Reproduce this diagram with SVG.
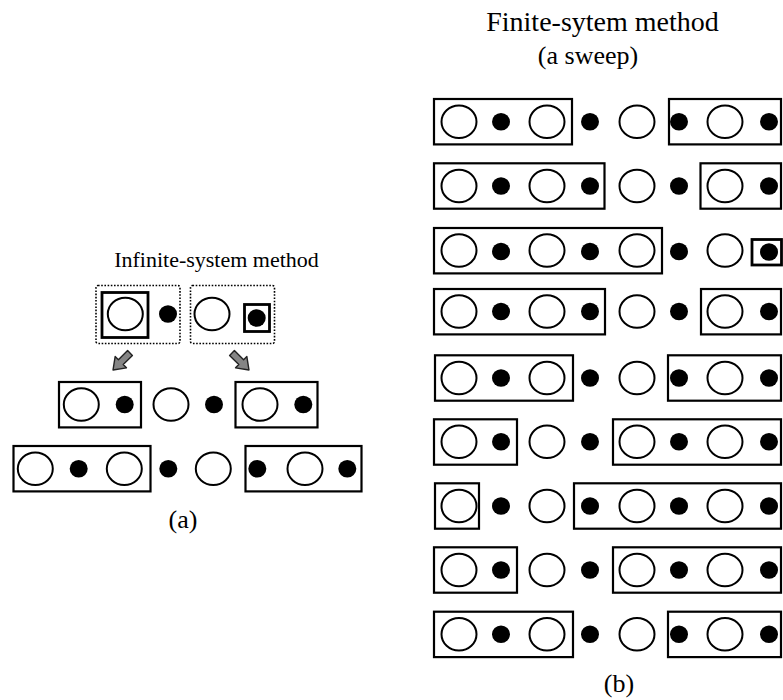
<svg xmlns="http://www.w3.org/2000/svg" width="783" height="700" viewBox="0 0 783 700">
  <style>
    .title { font-family: "Liberation Serif", "Times New Roman", serif; fill: #000; text-anchor: middle; }
    .box { fill: none; stroke: #000; stroke-width: 2.2; }
    .thick { fill: none; stroke: #000; stroke-width: 2.8; }
    .dotted { fill: none; stroke: #000; stroke-width: 1.6; stroke-dasharray: 1.6 1.6; }
    .site { fill: #fff; stroke: #000; stroke-width: 2; }
    .dot { fill: #000; }
    .arrow { fill: #858585; stroke: #222; stroke-width: 1.4; stroke-linejoin: round; }
  </style>
  <defs>
    <ellipse id="c" class="site" cx="0" cy="0" rx="17.5" ry="16.3"/>
    <ellipse id="d" class="dot" cx="0" cy="0" rx="9" ry="8.8"/>
    <!-- block arrow pointing along +x, tail at origin -->
    <polygon id="blk" class="arrow" points="0,-3.4 13,-3.4 13,-8 24,0 13,8 13,3.4 0,3.4"/>
  </defs>

  <rect width="783" height="700" fill="#fff"/>

  <!-- (a) infinite-system method -->
  <text class="title" x="216.5" y="267" font-size="22">Infinite-system method</text>

  <g id="a-row1">
    <g id="a1-left">
      <rect class="dotted" x="96" y="285.5" width="84" height="58" rx="2"/>
      <rect class="thick" x="102" y="292.5" width="46" height="45"/>
      <use href="#c" x="125.3" y="314"/>
      <use href="#d" x="168" y="314"/>
    </g>
    <g id="a1-right">
      <rect class="dotted" x="190.5" y="285.5" width="84" height="58" rx="2"/>
      <use href="#c" x="212" y="314"/>
      <rect class="thick" x="244.5" y="304.5" width="25" height="27"/>
      <use href="#d" x="256.7" y="318"/>
    </g>
  </g>

  <g id="connectors">
    <use href="#blk" transform="translate(130,353) rotate(135)"/>
    <use href="#blk" transform="translate(232,353) rotate(45)"/>
  </g>

  <g id="a-row2">
    <g id="a2-left">
      <rect class="box" x="59" y="382" width="82" height="45.4"/>
      <use href="#c" x="81.3" y="404.5"/>
      <use href="#d" x="124.7" y="404.5"/>
    </g>
    <g id="a2-mid">
      <use href="#c" x="171" y="404.5"/>
      <use href="#d" x="214" y="404.5"/>
    </g>
    <g id="a2-right">
      <rect class="box" x="235.5" y="382" width="82" height="45.4"/>
      <use href="#c" x="260" y="404.5"/>
      <use href="#d" x="303.3" y="404.5"/>
    </g>
  </g>

  <g id="a-row3">
    <g id="a3-left">
      <rect class="box" x="13.5" y="446" width="137" height="45.4"/>
      <use href="#c" x="35.3" y="468.7"/>
      <use href="#d" x="78.7" y="468.7"/>
      <use href="#c" x="124.3" y="468.7"/>
    </g>
    <g id="a3-mid">
      <use href="#d" x="168.3" y="468.7"/>
      <use href="#c" x="213.3" y="468.7"/>
    </g>
    <g id="a3-right">
      <rect class="box" x="245.5" y="446" width="116" height="45.4"/>
      <use href="#d" x="257.3" y="468.7"/>
      <use href="#c" x="305" y="468.7"/>
      <use href="#d" x="347.3" y="468.7"/>
    </g>
  </g>

  <text class="title" x="183" y="528" font-size="26">(a)</text>

  <!-- (b) finite-system method, one sweep -->
  <text class="title" x="602.5" y="31" font-size="28">Finite-sytem method</text>
  <text class="title" x="588" y="64" font-size="26">(a sweep)</text>

  <!-- row template: sites at x = 459 501 547 590 637 679 725 769 -->
  <g id="b-row1">
    <rect class="box" x="434" y="99" width="138" height="45.4"/>
    <rect class="box" x="669" y="99" width="112" height="45.4"/>
    <use href="#c" x="459" y="121.7"/><use href="#d" x="501" y="121.7"/>
    <use href="#c" x="547" y="121.7"/><use href="#d" x="590" y="121.7"/>
    <use href="#c" x="637" y="121.7"/><use href="#d" x="679" y="121.7"/>
    <use href="#c" x="725" y="121.7"/><use href="#d" x="769" y="121.7"/>
  </g>

  <g id="b-row2">
    <rect class="box" x="434" y="163.3" width="170.5" height="45.4"/>
    <rect class="box" x="700.5" y="163.3" width="80.5" height="45.4"/>
    <use href="#c" x="459" y="186"/><use href="#d" x="501" y="186"/>
    <use href="#c" x="547" y="186"/><use href="#d" x="590" y="186"/>
    <use href="#c" x="637" y="186"/><use href="#d" x="679" y="186"/>
    <use href="#c" x="725" y="186"/><use href="#d" x="769" y="186"/>
  </g>

  <g id="b-row3">
    <rect class="box" x="434" y="228" width="228" height="45.4"/>
    <rect class="thick" x="752" y="239.5" width="29.5" height="25.5"/>
    <use href="#c" x="459" y="250.5"/><use href="#d" x="501" y="251.5"/>
    <use href="#c" x="547" y="250.5"/><use href="#d" x="590" y="251.5"/>
    <use href="#c" x="637" y="250.5"/><use href="#d" x="679" y="251.5"/>
    <use href="#c" x="725" y="250.5"/><use href="#d" x="769" y="252"/>
  </g>

  <g id="b-row4">
    <rect class="box" x="434" y="289" width="171" height="45.4"/>
    <rect class="box" x="701" y="289" width="80" height="45.4"/>
    <use href="#c" x="459" y="311.5"/><use href="#d" x="501" y="311.5"/>
    <use href="#c" x="547" y="311.5"/><use href="#d" x="590" y="311.5"/>
    <use href="#c" x="637" y="311.5"/><use href="#d" x="679" y="311.5"/>
    <use href="#c" x="725" y="311.5"/><use href="#d" x="769" y="311.5"/>
  </g>

  <g id="b-row5">
    <rect class="box" x="435" y="355.3" width="138" height="45.4"/>
    <rect class="box" x="668" y="355.3" width="113" height="45.4"/>
    <use href="#c" x="459" y="378"/><use href="#d" x="501" y="378"/>
    <use href="#c" x="547" y="378"/><use href="#d" x="590" y="378"/>
    <use href="#c" x="637" y="378"/><use href="#d" x="679" y="378"/>
    <use href="#c" x="725" y="378"/><use href="#d" x="769" y="378"/>
  </g>

  <g id="b-row6">
    <rect class="box" x="434" y="419.3" width="83" height="45.4"/>
    <rect class="box" x="613" y="419.3" width="168" height="45.4"/>
    <use href="#c" x="459" y="441.7"/><use href="#d" x="501" y="441.7"/>
    <use href="#c" x="547" y="441.7"/><use href="#d" x="590" y="441.7"/>
    <use href="#c" x="637" y="441.7"/><use href="#d" x="679" y="441.7"/>
    <use href="#c" x="725" y="441.7"/><use href="#d" x="769" y="441.7"/>
  </g>

  <g id="b-row7">
    <rect class="box" x="435" y="483.3" width="44" height="45.4"/>
    <rect class="box" x="574" y="483.3" width="207" height="45.4"/>
    <use href="#c" x="459" y="506"/><use href="#d" x="501" y="506"/>
    <use href="#c" x="547" y="506"/><use href="#d" x="590" y="506"/>
    <use href="#c" x="637" y="506"/><use href="#d" x="679" y="506"/>
    <use href="#c" x="725" y="506"/><use href="#d" x="769" y="506"/>
  </g>

  <g id="b-row8">
    <rect class="box" x="434" y="547.3" width="83" height="45.4"/>
    <rect class="box" x="613" y="547.3" width="168" height="45.4"/>
    <use href="#c" x="459" y="570"/><use href="#d" x="501" y="570"/>
    <use href="#c" x="547" y="570"/><use href="#d" x="590" y="570"/>
    <use href="#c" x="637" y="570"/><use href="#d" x="679" y="570"/>
    <use href="#c" x="725" y="570"/><use href="#d" x="769" y="570"/>
  </g>

  <g id="b-row9">
    <rect class="box" x="434" y="611.7" width="139" height="45.4"/>
    <rect class="box" x="668" y="611.7" width="113" height="45.4"/>
    <use href="#c" x="459" y="634.2"/><use href="#d" x="501" y="634.2"/>
    <use href="#c" x="547" y="634.2"/><use href="#d" x="590" y="634.2"/>
    <use href="#c" x="637" y="634.2"/><use href="#d" x="679" y="634.2"/>
    <use href="#c" x="725" y="634.2"/><use href="#d" x="769" y="634.2"/>
  </g>

  <text class="title" x="619" y="692" font-size="26">(b)</text>
</svg>
